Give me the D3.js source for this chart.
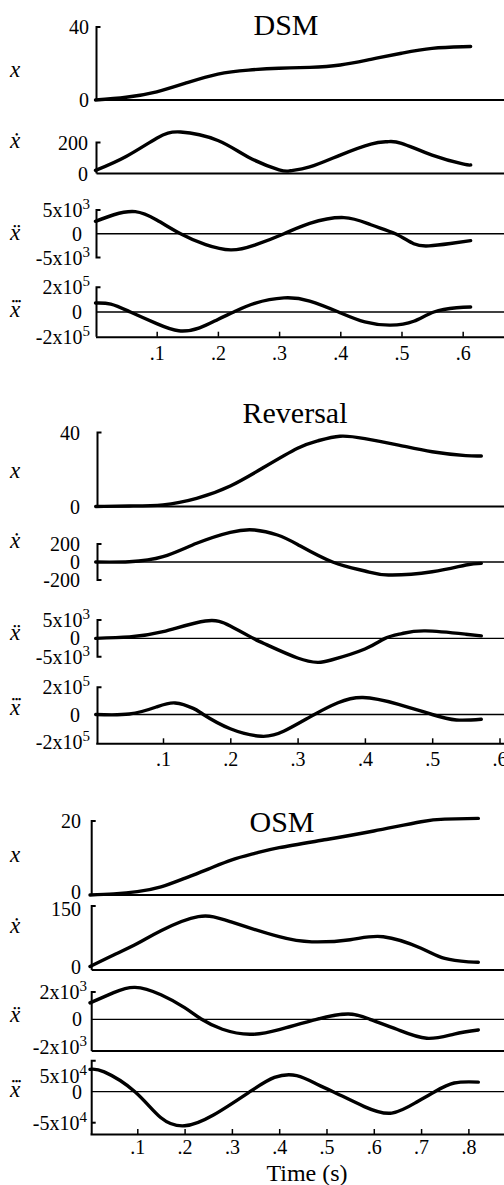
<!DOCTYPE html>
<html><head><meta charset="utf-8">
<script src="https://cdn.jsdelivr.net/npm/d3@7"></script>
<style>
body{margin:0;background:#fff;}
svg{display:block;}
text{font-family:"Liberation Serif","Times New Roman",serif;fill:#000;}
</style></head><body>
<svg id="chart" width="504" height="1185"></svg>
<script>
// ---------------- DATA ----------------
const panelTitles = ["DSM", "Reversal", "OSM"];
const timeLabel = "Time (s)";
const varLabels = ["x", "\u1E8B", "\u1E8D", "x"];   // x, x-dot, x-double-dot, x (+ three dots)
const tripleDots = "\u2022\u2022\u2022";
const dsmTimeTicks = [0.1, 0.2, 0.3, 0.4, 0.5, 0.6];
const revTimeTicks = [0.1, 0.2, 0.3, 0.4, 0.5, 0.6];
const osmTimeTicks = [0.1, 0.2, 0.3, 0.4, 0.5, 0.6, 0.7, 0.8];

// y tick labels per subplot
const dsmYTicks = [[0, 40], [0, 200], [-5000, 0, 5000], [-2e5, 0, 2e5]];
const revYTicks = [[0, 40], [-200, 0, 200], [-5000, 0, 5000], [-2e5, 0, 2e5]];
const osmYTicks = [[0, 20], [0, 150], [-2000, 0, 2000], [-5e4, 0, 5e4]];

// DSM  [time (s), value]
const dsmX = [[0,0],[0.05,1.5],[0.1,4.5],[0.15,9.5],[0.2,14.2],[0.25,16.4],[0.3,17.4],[0.35,17.9],[0.4,19.2],[0.45,22.3],[0.5,25.6],[0.55,28.3],[0.6,29.2],[0.613,29.3]];
const dsmV = [[0,20],[0.05,110],[0.1,228],[0.139,268],[0.2,213],[0.25,105],[0.3,24],[0.319,18],[0.35,42],[0.4,119],[0.45,190],[0.477,205],[0.5,195],[0.55,119],[0.6,62],[0.613,55]];
const dsmA = [[0,2620],[0.03,4000],[0.065,4650],[0.1,2900],[0.139,0],[0.18,-2300],[0.221,-3400],[0.26,-2400],[0.308,0],[0.35,2200],[0.406,3400],[0.45,1900],[0.49,0],[0.52,-2100],[0.545,-2550],[0.58,-2050],[0.613,-1460]];
const dsmJ = [[0,73000],[0.025,64000],[0.057,0],[0.1,-94000],[0.136,-152000],[0.17,-128000],[0.2,-60000],[0.226,0],[0.26,70000],[0.308,114000],[0.35,88000],[0.397,0],[0.44,-80000],[0.482,-106000],[0.52,-75000],[0.553,0],[0.59,34000],[0.613,40000]];

// Reversal
const revX = [[0,0],[0.05,0.3],[0.1,0.9],[0.15,4.4],[0.2,11.1],[0.25,21.2],[0.3,31.5],[0.33,35.5],[0.363,38],[0.4,36.7],[0.45,33.2],[0.5,29.6],[0.55,27.5],[0.573,27.3]];
const revV = [[0,0],[0.05,3],[0.1,59],[0.15,208],[0.2,330],[0.236,356],[0.27,300],[0.3,195],[0.352,0],[0.4,-100],[0.435,-144],[0.5,-108],[0.55,-33],[0.573,-15]];
const revA = [[0,0],[0.05,400],[0.1,1840],[0.163,4730],[0.2,3380],[0.234,0],[0.25,-1400],[0.3,-5350],[0.33,-6540],[0.35,-5900],[0.4,-2900],[0.43,0],[0.455,1300],[0.49,2030],[0.55,1130],[0.573,680]];
const revJ = [[0,0],[0.05,3500],[0.09,55000],[0.118,85000],[0.145,45000],[0.16,0],[0.2,-105000],[0.246,-160000],[0.28,-122000],[0.325,0],[0.36,86000],[0.397,125000],[0.45,75000],[0.5,0],[0.536,-40000],[0.573,-35000]];

// OSM
const osmX = [[0,0],[0.05,0.3],[0.1,0.9],[0.15,2.2],[0.2,4.5],[0.25,7],[0.3,9.5],[0.35,11.3],[0.4,12.8],[0.5,15],[0.6,17.3],[0.7,19.8],[0.75,20.5],[0.821,20.7]];
const osmV = [[0,8],[0.05,35],[0.1,62],[0.15,92],[0.229,125],[0.3,112],[0.4,78],[0.469,66],[0.55,71],[0.62,78],[0.7,51],[0.75,27],[0.8,19],[0.821,18]];
const osmA = [[0,1200],[0.05,1950],[0.095,2340],[0.15,1800],[0.2,850],[0.236,0],[0.28,-730],[0.338,-1100],[0.4,-750],[0.479,0],[0.546,390],[0.592,0],[0.65,-750],[0.712,-1390],[0.77,-1080],[0.821,-780]];
const osmJ = [[0,36000],[0.03,32000],[0.095,0],[0.15,-42000],[0.2,-55000],[0.26,-38000],[0.338,0],[0.39,23000],[0.437,26000],[0.48,12000],[0.514,0],[0.58,-24000],[0.638,-34500],[0.69,-17000],[0.729,0],[0.77,14000],[0.821,15500]];

// ---------------- LAYOUT ----------------
const layout = [
  { title: panelTitles[0], titleX: 286, titleY: 35, xRange: [95.5, 504], xMax: 0.6675, axisX: 96.5,
    timeAxisY: 336.7, timeTicks: dsmTimeTicks, showTimeLabel: false,
    subs: [
      { data: dsmX, ticks: dsmYTicks[0], domain: [0, 40], range: [100, 27], zero: "thick", topTick: true, botTick: false, labBase: 76.7, plainEnd: 89, expEnd: 90 },
      { data: dsmV, ticks: dsmYTicks[1], domain: [0, 200], range: [173.5, 142.5], zero: "thick", topTick: true, botTick: false, labBase: 147.7, plainEnd: 88, expEnd: 90 },
      { data: dsmA, ticks: dsmYTicks[2], domain: [-5000, 5000], range: [257.5, 210], zero: "thin", topTick: true, botTick: true, labBase: 240, plainEnd: 82, expEnd: 90 },
      { data: dsmJ, ticks: dsmYTicks[3], domain: [-2e5, 2e5], range: [336.7, 287.3], zero: "thin", topTick: true, botTick: false, labBase: 316.7, plainEnd: 82, expEnd: 90, timeAxis: true }
    ] },
  { title: panelTitles[1], titleX: 295, titleY: 423, xRange: [95.7, 504], xMax: 0.6067, axisX: 97.5,
    timeAxisY: 743.3, timeTicks: revTimeTicks, showTimeLabel: false,
    subs: [
      { data: revX, ticks: revYTicks[0], domain: [0, 40], range: [506.5, 432.5], zero: "thick", topTick: true, botTick: false, labBase: 478, plainEnd: 80, expEnd: 90 },
      { data: revV, ticks: revYTicks[1], domain: [-200, 200], range: [580, 544], zero: "thin", topTick: true, botTick: true, labBase: 547.7, plainEnd: 80, expEnd: 90 },
      { data: revA, ticks: revYTicks[2], domain: [-5000, 5000], range: [656.7, 620], zero: "thin", topTick: true, botTick: true, labBase: 640, plainEnd: 80, expEnd: 90 },
      { data: revJ, ticks: revYTicks[3], domain: [-2e5, 2e5], range: [741.7, 687.3], zero: "thin", topTick: true, botTick: false, labBase: 715, plainEnd: 80, expEnd: 90, timeAxis: true }
    ] },
  { title: panelTitles[2], titleX: 282, titleY: 832, xRange: [90, 504], xMax: 0.8753, axisX: 91.7,
    timeAxisY: 1134, timeTicks: osmTimeTicks, showTimeLabel: true,
    subs: [
      { data: osmX, ticks: osmYTicks[0], domain: [0, 20], range: [895, 821], zero: "thick", topTick: true, botTick: false, labBase: 861.7, plainEnd: 81, expEnd: 87, labelShift: { "0": -3.5 } },
      { data: osmV, ticks: osmYTicks[1], domain: [0, 150], range: [970, 906], zero: "thick", topTick: true, botTick: false, labBase: 932.7, plainEnd: 81, expEnd: 87, labelShift: { "150": 3, "0": -3 } },
      { data: osmA, ticks: osmYTicks[2], domain: [-2000, 2000], range: [1046.6, 992], zero: "thin", topTick: true, botTick: false, bottomLine: 1051, labBase: 1021.7, plainEnd: 82, expEnd: 87 },
      { data: osmJ, ticks: osmYTicks[3], domain: [-5e4, 5e4], range: [1122.7, 1060.7], zero: "thin", topTick: true, botTick: true, botTickVal: -5e4, labBase: 1096.7, plainEnd: 82, expEnd: 87, timeAxis: true, labelShift: { "50000": 15 } }
    ] }
];

// ---------------- DRAW ----------------
const svg = d3.select("#chart");
const TICK = 4, LAB_SIZE = 23, DOT_SIZE = 9;

function expParts(v) {
  const a = Math.abs(v);
  const e = Math.floor(Math.log10(a));
  const m = Math.round(a / Math.pow(10, e));
  return { base: (v < 0 ? "-" : "") + m + "x10", exp: String(e) };
}

layout.forEach(P => {
  const g = svg.append("g");
  const xs = d3.scaleLinear().domain([0, P.xMax]).range(P.xRange);

  g.append("text").attr("x", P.titleX).attr("y", P.titleY)
    .attr("text-anchor", "middle").attr("font-size", 30).text(P.title);

  P.subs.forEach((S, si) => {
    const ys = d3.scaleLinear().domain(S.domain).range(S.range);
    const yTop = S.range[1];
    let yBot = S.range[0];
    if (S.timeAxis) yBot = P.timeAxisY;
    if (S.bottomLine) yBot = S.bottomLine;

    g.append("line").attr("x1", P.axisX).attr("x2", 504)
      .attr("y1", ys(0)).attr("y2", ys(0))
      .attr("stroke", "#000").attr("stroke-width", S.zero === "thick" ? 2 : 1.3);

    if (S.bottomLine) {
      g.append("line").attr("x1", P.axisX).attr("x2", 504)
        .attr("y1", S.bottomLine).attr("y2", S.bottomLine)
        .attr("stroke", "#000").attr("stroke-width", 2);
    }

    let path = d3.path();
    if (S.topTick) { path.moveTo(P.axisX + TICK, yTop); path.lineTo(P.axisX, yTop); }
    else path.moveTo(P.axisX, yTop);
    path.lineTo(P.axisX, yBot);
    if (S.botTick && S.botTickVal === undefined) path.lineTo(P.axisX + TICK, yBot);
    g.append("path").attr("d", path.toString()).attr("fill", "none")
      .attr("stroke", "#000").attr("stroke-width", 2);
    if (S.botTickVal !== undefined) {
      g.append("line").attr("x1", P.axisX).attr("x2", P.axisX + TICK)
        .attr("y1", ys(S.botTickVal)).attr("y2", ys(S.botTickVal))
        .attr("stroke", "#000").attr("stroke-width", 2);
    }

    S.ticks.forEach(v => {
      const shift = (S.labelShift && S.labelShift[String(v)]) || 0;
      const y = ys(v) + shift;
      const t = g.append("text").attr("y", y).attr("dy", "0.35em")
        .attr("text-anchor", "end").attr("font-size", 20);
      if (Math.abs(v) >= 1000) {
        const p = expParts(v);
        t.attr("x", S.expEnd);
        t.append("tspan").text(p.base);
        t.append("tspan").attr("font-size", 15).attr("dy", -8).text(p.exp);
      } else {
        t.attr("x", S.plainEnd).text(v);
      }
    });

    // variable label (x with derivative dots)
    if (si < 3) {
      g.append("text").attr("x", 15).attr("y", S.labBase).attr("text-anchor", "middle")
        .attr("font-size", LAB_SIZE).attr("font-style", "italic").text(varLabels[si]);
    } else {
      const xw = 0.444 * LAB_SIZE;
      const dw = 0.35 * DOT_SIZE * 3;
      const lab = g.append("text").attr("x", 15 - xw / 2).attr("y", S.labBase)
        .attr("text-anchor", "start");
      lab.append("tspan").attr("font-size", LAB_SIZE).attr("font-style", "italic").text(varLabels[si]);
      lab.append("tspan").attr("font-size", DOT_SIZE).attr("font-weight", "bold")
        .attr("dx", -xw / 2 - dw / 2 + 1.5).attr("dy", -13).text(tripleDots);
    }

    const line = d3.line().x(d => xs(d[0])).y(d => ys(d[1]))
      .curve(d3.curveNatural);
    g.append("path").datum(S.data).attr("d", line).attr("fill", "none")
      .attr("stroke", "#000").attr("stroke-width", 3.4)
      .attr("stroke-linecap", "round").attr("stroke-linejoin", "round");

    if (S.timeAxis) {
      const ax = d3.axisBottom(xs).tickValues(P.timeTicks)
        .tickSizeInner(-5).tickSizeOuter(0).tickPadding(P.showTimeLabel ? 6 : 9)
        .tickFormat(d => "." + Math.round(d * 10));
      const ag = g.append("g").attr("transform", `translate(0,${P.timeAxisY})`).call(ax);
      ag.select(".domain").attr("stroke", "#000").attr("stroke-width", 2);
      ag.selectAll(".tick line").attr("stroke", "#000").attr("stroke-width", 1.5);
      ag.selectAll(".tick text").attr("font-size", 20)
        .attr("font-family", "'Liberation Serif','Times New Roman',serif").attr("fill", "#000");
    }
  });

  if (P.showTimeLabel) {
    g.append("text").attr("x", 307).attr("y", 1181).attr("text-anchor", "middle")
      .attr("font-size", 24).text(timeLabel);
  }
});
</script>
</body></html>
